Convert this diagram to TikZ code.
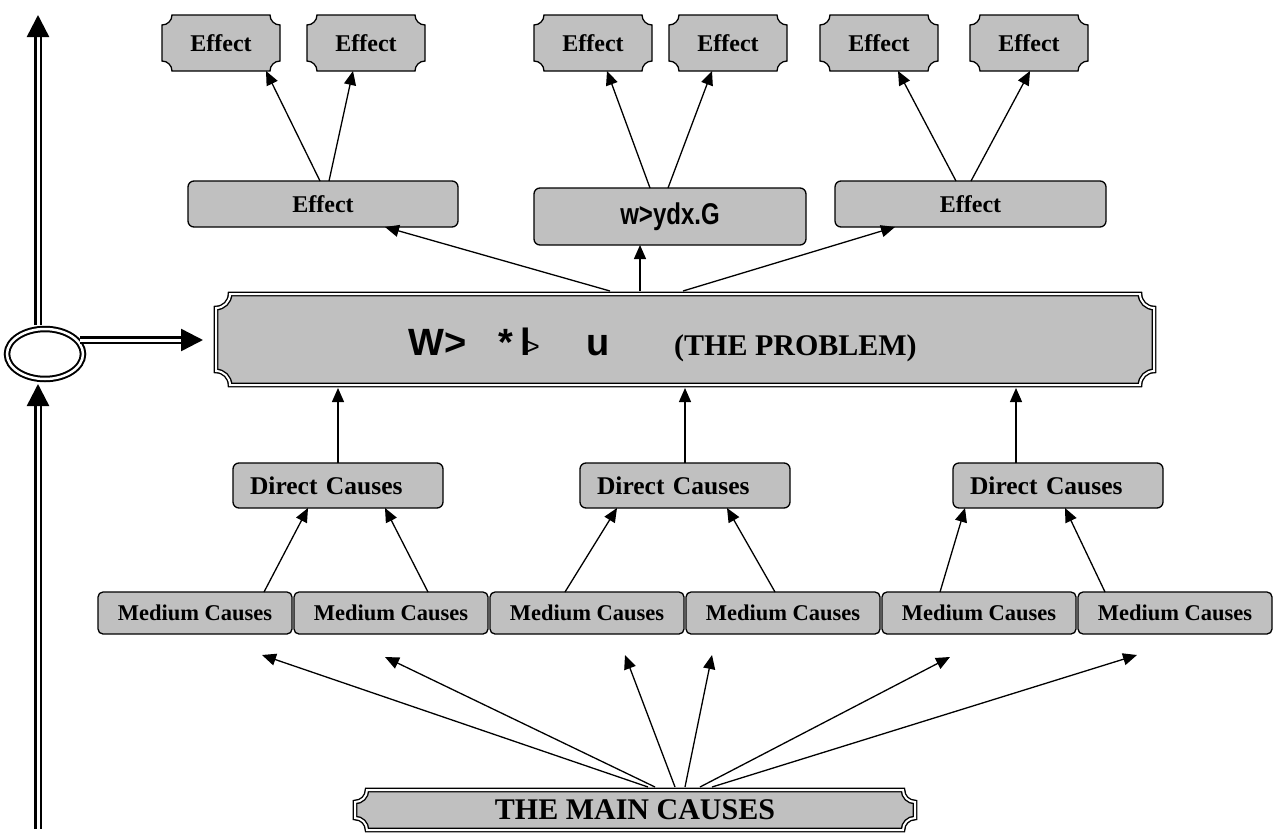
\documentclass[tikz,border=0pt]{standalone}
\usepackage{fontspec}
\setmainfont{Liberation Serif}
\newfontfamily\arialbold{Liberation Sans}
\newfontfamily\garbfont[FakeStretch=0.8]{Liberation Sans}
\usetikzlibrary{arrows.meta,calc,shapes.geometric}
\pgfdeclarelayer{bg}
\pgfsetlayers{bg,main}
\definecolor{boxgray}{RGB}{192,192,192}
\tikzset{
  plaque/.style={fill=boxgray, draw=black, line width=1.3pt},
  dplaque/.style={fill=boxgray, draw=black, line width=1.4pt, double=white, double distance=2pt},
  ptext/.style={inner sep=0pt, outer sep=0pt, font=\bfseries\fontsize{24}{26}\selectfont},
  rbox/.style={fill=boxgray, draw=black, line width=1.3pt, rounded corners=6pt, inner sep=0pt, outer sep=0pt, font=\bfseries\fontsize{24}{26}\selectfont},
  medbox/.style={rbox, rounded corners=5pt, minimum width=194pt, minimum height=42pt, font=\bfseries\fontsize{22.5}{24}\selectfont},
  dirbox/.style={rbox, minimum width=210pt, minimum height=45pt, text width=176pt, align=left, inner xsep=17pt, font=\bfseries\fontsize{25.5}{27}\selectfont},
  arr/.style={line width=1.3pt, -{Triangle[length=14pt,width=12pt]}},
  dblarr/.style={double, line width=2.5pt, double distance=3pt, -{Triangle[length=22pt,width=22pt]}},
}
\newcommand\plq[3]{%
  \path[#3] ([xshift=#2pt]#1.north west) -- ([xshift=-#2pt]#1.north east)
    .. controls ([xshift=-#2pt, yshift=-0.552*#2pt]#1.north east) and ([xshift=-0.552*#2pt, yshift=-#2pt]#1.north east) .. ([yshift=-#2pt]#1.north east)
    -- ([yshift=#2pt]#1.south east)
    .. controls ([xshift=-0.552*#2pt, yshift=#2pt]#1.south east) and ([xshift=-#2pt, yshift=0.552*#2pt]#1.south east) .. ([xshift=-#2pt]#1.south east)
    -- ([xshift=#2pt]#1.south west)
    .. controls ([xshift=#2pt, yshift=0.552*#2pt]#1.south west) and ([xshift=0.552*#2pt, yshift=#2pt]#1.south west) .. ([yshift=#2pt]#1.south west)
    -- ([yshift=-#2pt]#1.north west)
    .. controls ([xshift=0.552*#2pt, yshift=-#2pt]#1.north west) and ([xshift=#2pt, yshift=-0.552*#2pt]#1.north west) .. cycle;}
\begin{document}
\begin{tikzpicture}[x=1pt,y=-1pt]
\useasboundingbox (0,0) rectangle (1276,835);

% top effects
\foreach \n/\cx in {e1/221,e2/366,e3/593,e4/728,e5/879,e6/1029}{
  \node[ptext, minimum width=118pt, minimum height=56pt] (\n) at (\cx,43) {Effect};
}
% middle effects
\node[rbox, minimum width=270pt, minimum height=46pt] (m1) at (323,204) {Effect};
\node[rbox, minimum width=272pt, minimum height=57pt] (m2) at (670,216.5) {\garbfont\bfseries\fontsize{30}{30}\selectfont w>ydx.G};
\node[rbox, minimum width=271pt, minimum height=46pt] (m3) at (970.5,204) {Effect};

% problem
\node[inner sep=0pt, outer sep=0pt, minimum width=938pt, minimum height=91pt] (prob) at (685,339.5) {};
\node[inner sep=0pt, anchor=base west] (probk) at (408,355)
  {\arialbold\bfseries\fontsize{38}{40}\selectfont W>\hspace{32pt}*\hspace{7pt}l\kern-6pt{\mdseries\fontsize{26}{26}\selectfont >}\hspace{47pt}u};
\node[inner sep=0pt, anchor=base west, font=\bfseries\fontsize{30}{32}\selectfont] (probt) at (674,355) {(THE PROBLEM)};

% direct causes
\node[dirbox] (d1) at (338,485.5) {Direct Causes};
\node[dirbox] (d2) at (685,485.5) {Direct Causes};
\node[dirbox] (d3) at (1058,485.5) {Direct Causes};

% medium causes
\foreach \n/\cx in {md1/195,md2/391,md3/587,md4/783,md5/979,md6/1175}{
  \node[medbox] (\n) at (\cx,613) {Medium Causes};
}

% main causes
\node[ptext, minimum width=560pt, minimum height=40pt, font=\bfseries\fontsize{30}{32}\selectfont] (mainc) at (635,810) {THE MAIN CAUSES};

% circle
\node[ellipse, draw=black, line width=2pt, double=white, double distance=2.5pt, minimum width=76pt, minimum height=50pt, inner sep=0pt] (circ) at (45,354) {};

\begin{pgfonlayer}{bg}
  \foreach \n in {e1,e2,e3,e4,e5,e6}{\plq{\n}{10}{plaque}}
  \plq{prob}{14}{dplaque}
  \plq{mainc}{12}{dplaque}
\end{pgfonlayer}

% free ends
\coordinate (vtop) at (38,15);
\coordinate (ctop) at (38,325);
\coordinate (cbot) at (38,384);
\coordinate (vbot) at (38,829);
\coordinate (hst) at (80,340);
\coordinate (htip) at (203,340);
\foreach \i/\x/\y in {1/262/655,2/385/657,3/625/655,4/712/655,5/950/657,6/1137/655}{
  \coordinate (t\i) at (\x,\y);
}

% double arrows
\draw[dblarr] (ctop) -- (vtop);
\draw[dblarr] (vbot) -- (cbot);
\draw[dblarr] (hst) -- (htip);

% problem -> middle effects
\draw[arr] ([xshift=-75pt,yshift=3pt]prob.north) -- ([xshift=62pt]m1.south);
\draw[arr] ([xshift=-45pt,yshift=3pt]prob.north) -- ([xshift=-30pt]m2.south);
\draw[arr] ([xshift=-2pt,yshift=3pt]prob.north) -- ([xshift=-75.5pt]m3.south);

% middle effects -> top effects
\draw[arr] ([xshift=-3pt]m1.north) -- ([xshift=45pt]e1.south);
\draw[arr] ([xshift=6pt]m1.north) -- ([xshift=-13pt]e2.south);
\draw[arr] ([xshift=-20pt]m2.north) -- ([xshift=14pt]e3.south);
\draw[arr] ([xshift=-2pt]m2.north) -- ([xshift=-16pt]e4.south);
\draw[arr] ([xshift=-14.5pt]m3.north) -- ([xshift=19pt]e5.south);
\draw[arr] ([xshift=0.5pt]m3.north) -- ([xshift=1pt]e6.south);

% direct -> problem
\draw[arr] (d1.north) -- ($(d1.north |- prob.south)+(0,3)$);
\draw[arr] (d2.north) -- ($(d2.north |- prob.south)+(0,3)$);
\draw[arr] ([xshift=-42pt]d3.north) -- ($([xshift=-42pt]d3.north |- prob.south)+(0,3)$);

% medium -> direct
\draw[arr] ([xshift=69pt]md1.north) -- ([xshift=-30pt]d1.south);
\draw[arr] ([xshift=37pt]md2.north) -- ([xshift=47pt]d1.south);
\draw[arr] ([xshift=-22pt]md3.north) -- ([xshift=-68pt]d2.south);
\draw[arr] ([xshift=-8pt]md4.north) -- ([xshift=42pt]d2.south);
\draw[arr] ([xshift=-39pt]md5.north) -- ([xshift=-93pt]d3.south);
\draw[arr] ([xshift=-70pt]md6.north) -- ([xshift=7pt]d3.south);

% main -> medium level
\foreach \i/\dx in {1/13,2/20,3/40,4/50,5/65,6/77}{
  \draw[arr] ([xshift=\dx pt,yshift=3pt]mainc.north) -- (t\i);
}
\end{tikzpicture}
\end{document}
